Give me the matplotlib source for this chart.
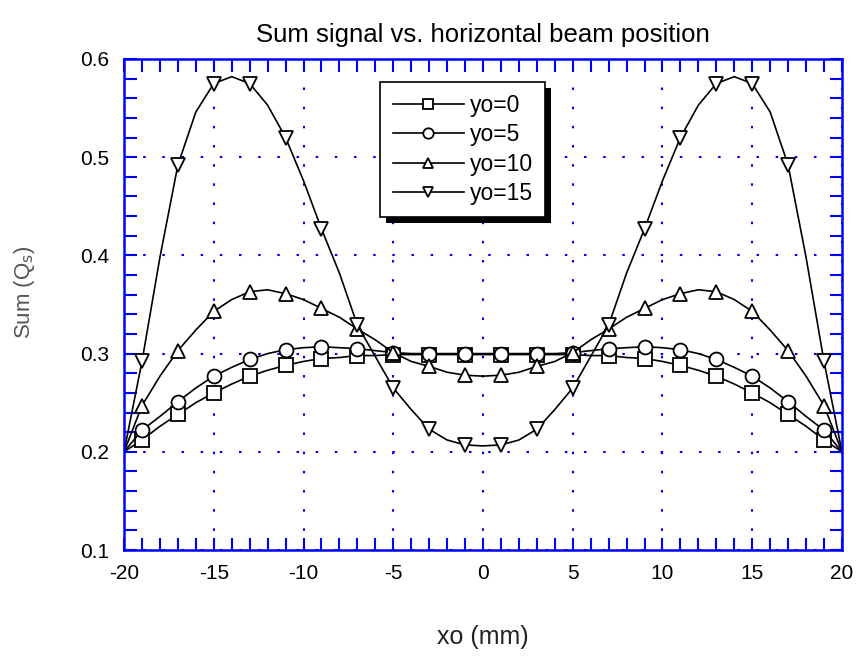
import matplotlib
matplotlib.use('Agg')
import matplotlib.pyplot as plt
from matplotlib.patches import Rectangle
from matplotlib.transforms import IdentityTransform
from matplotlib.ticker import MultipleLocator

plt.rcParams['font.family'] = ['Liberation Sans', 'DejaVu Sans']

# horizontal beam position (mm)
xo = list(range(-20, 21))

# sum signal
sum_yo0 = [0.200, 0.212, 0.226, 0.238, 0.250, 0.260, 0.269, 0.277, 0.283, 0.288,
           0.292, 0.295, 0.296, 0.298, 0.298, 0.299, 0.299, 0.299, 0.299, 0.299,
           0.299,
           0.299, 0.299, 0.299, 0.299, 0.299, 0.298, 0.298, 0.296, 0.295, 0.292,
           0.288, 0.283, 0.277, 0.269, 0.260, 0.250, 0.238, 0.226, 0.212, 0.200]
sum_yo5 = [0.200, 0.222, 0.236, 0.251, 0.265, 0.277, 0.286, 0.294, 0.300, 0.304,
           0.306, 0.307, 0.306, 0.305, 0.303, 0.301, 0.300, 0.300, 0.300, 0.300,
           0.300,
           0.300, 0.300, 0.300, 0.300, 0.301, 0.303, 0.305, 0.306, 0.307, 0.306,
           0.304, 0.300, 0.294, 0.286, 0.277, 0.265, 0.251, 0.236, 0.222, 0.200]
sum_yo10 = [0.200, 0.247, 0.277, 0.303, 0.324, 0.343, 0.355, 0.363, 0.365, 0.361,
            0.355, 0.346, 0.337, 0.325, 0.314, 0.301, 0.292, 0.287, 0.281, 0.278,
            0.277,
            0.278, 0.281, 0.287, 0.292, 0.301, 0.314, 0.325, 0.337, 0.346, 0.355,
            0.361, 0.365, 0.363, 0.355, 0.343, 0.324, 0.303, 0.277, 0.247, 0.200]
sum_yo15 = [0.200, 0.292, 0.398, 0.492, 0.546, 0.575, 0.582, 0.575, 0.553, 0.520,
            0.476, 0.427, 0.382, 0.329, 0.297, 0.265, 0.243, 0.223, 0.212, 0.207,
            0.206,
            0.207, 0.212, 0.223, 0.243, 0.265, 0.297, 0.329, 0.382, 0.427, 0.476,
            0.520, 0.553, 0.575, 0.582, 0.575, 0.546, 0.492, 0.398, 0.292, 0.200]

series = [
    ('yo=0', sum_yo0, 's'),
    ('yo=5', sum_yo5, 'o'),
    ('yo=10', sum_yo10, '^'),
    ('yo=15', sum_yo15, 'v'),
]

fig = plt.figure(figsize=(8.56, 6.59), dpi=100)
ax = fig.add_axes([0.1449, 0.1654, 0.8387, 0.7451])

for label, vals, mk in series:
    ax.plot(xo, vals, color='black', linewidth=1.2, marker=mk, markersize=10,
            markerfacecolor='white', markeredgecolor='black', markeredgewidth=1.3,
            markevery=slice(1, 40, 2), label=label)

ax.set_xlim(-20, 20)
ax.set_ylim(0.1, 0.6)
ax.xaxis.set_major_locator(MultipleLocator(5))
ax.xaxis.set_minor_locator(MultipleLocator(1))
ax.yaxis.set_major_locator(MultipleLocator(0.1))
ax.yaxis.set_minor_locator(MultipleLocator(0.02))
ax.xaxis.set_major_formatter(plt.FuncFormatter(lambda v, p: '%d' % v))
ax.yaxis.set_major_formatter(plt.FuncFormatter(lambda v, p: '%.1f' % v))

ax.tick_params(which='both', direction='in', top=True, right=True,
               color='blue', width=1.5, length=9, labelsize=15)
ax.tick_params(axis='x', which='major', pad=10)
ax.tick_params(axis='y', which='major', pad=11)
for sp in ax.spines.values():
    sp.set_color('blue')
    sp.set_linewidth(1.8)

ax.grid(True, which='major', color='blue', linestyle=(0, (1.2, 8)), linewidth=1.5)

ax.set_title('Sum signal vs. horizontal beam position', fontsize=18.5, pad=12)
ax.set_xlabel('xo (mm)', fontsize=18, labelpad=30, color='#222222')
ax.set_ylabel('Sum (Q$_{\\rm s}$)', fontsize=16, color='#555555')
ax.yaxis.set_label_coords(-0.121, 0.525)

leg = ax.legend(loc='upper left', bbox_to_anchor=(0.357, 0.954), fontsize=16.5,
                handlelength=3.1, labelspacing=0.27, markerscale=0.75,
                fancybox=False, framealpha=1, edgecolor='black',
                borderpad=0.55, handletextpad=0.25, borderaxespad=0)
leg.get_frame().set_linewidth(1.2)
leg.set_zorder(5)

fig.canvas.draw()
bb = leg.get_window_extent()
shadow = Rectangle((bb.x0 + 6, bb.y0 - 6), bb.width, bb.height,
                   transform=IdentityTransform(), facecolor='black',
                   edgecolor='none', zorder=4.9, clip_on=False)
ax.add_patch(shadow)

fig.savefig('out.png', dpi=100)
